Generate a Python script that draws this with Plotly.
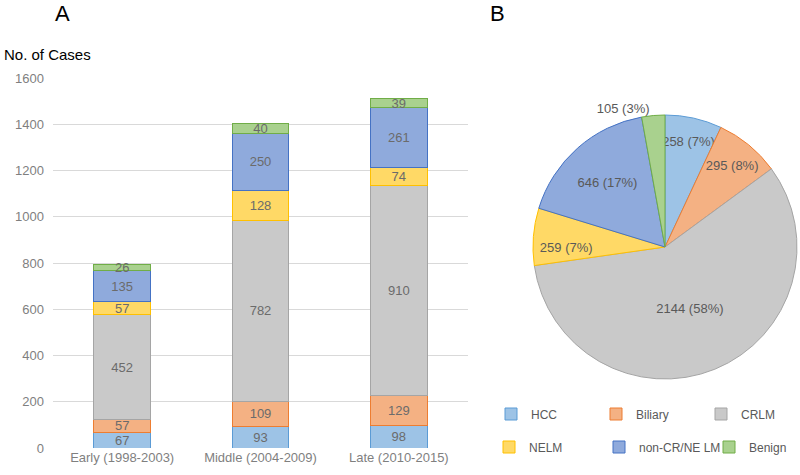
import plotly.graph_objects as go

periods = ["Early (1998-2003)", "Middle (2004-2009)", "Late (2010-2015)"]
categories = ["HCC", "Biliary", "CRLM", "NELM", "non-CR/NE LM", "Benign"]
hcc = [67, 93, 98]
biliary = [57, 109, 129]
crlm = [452, 782, 910]
nelm = [57, 128, 74]
noncr = [135, 250, 261]
benign = [26, 40, 39]
pie_values = [258, 295, 2144, 259, 646, 105]
y_ticks = [0, 200, 400, 600, 800, 1000, 1200, 1400, 1600]

fills = ["#9DC3E6", "#F4B183", "#C9C9C9", "#FFD966", "#8FAADC", "#A9D18E"]
edges = ["#5B9BD5", "#ED7D31", "#A5A5A5", "#FFC000", "#4472C4", "#70AD47"]
FONT = "Liberation Sans, Arial, sans-serif"

W, H = 800, 475


def px(x):
    return x / W


def py(y):
    return 1 - y / H


fig = go.Figure()
series = [hcc, biliary, crlm, nelm, noncr, benign]
for i, (name, vals) in enumerate(zip(categories, series)):
    fig.add_trace(go.Bar(
        x=periods, y=vals, name=name,
        marker=dict(color=fills[i], line=dict(color=edges[i], width=1)),
        text=vals, textposition="inside", insidetextanchor="middle", textangle=0,
        textfont=dict(color="#6b6b6b", size=13, family=FONT),
        legend="legend" if i < 3 else "legend2",
        hoverinfo="skip",
    ))

fig.add_trace(go.Pie(
    values=pie_values, labels=categories, sort=False, direction="clockwise",
    marker=dict(colors=fills, line=dict(color=edges, width=1)),
    texttemplate="%{value} (%{percent:.0%})",
    textposition=["inside", "inside", "inside", "inside", "inside", "outside"],
    insidetextorientation="horizontal",
    textfont=dict(color="#595959", size=13, family=FONT),
    showlegend=False, automargin=False,
    domain=dict(x=[px(533), px(797)], y=[py(379), py(115)]),
    hoverinfo="skip",
))

leg_common = dict(orientation="h", xanchor="left", yanchor="middle",
                  entrywidthmode="pixels", itemwidth=30, traceorder="normal",
                  font=dict(size=12, color="#595959", family=FONT), bgcolor="rgba(0,0,0,0)")

fig.update_layout(
    width=W, height=H,
    margin=dict(l=0, r=0, t=0, b=0, pad=0, autoexpand=False),
    paper_bgcolor="white", plot_bgcolor="white",
    barmode="stack", bargap=0.59,
    font=dict(family=FONT, color="#595959"),
    uniformtext=dict(minsize=13, mode="show"),
    xaxis=dict(domain=[px(53), px(468)], showgrid=False, ticks="", automargin=False,
               tickfont=dict(size=13, color="#7f7f7f", family=FONT)),
    yaxis=dict(domain=[py(448), py(78)], range=[0, 1600], automargin=False,
               tickvals=y_ticks, showgrid=True, gridcolor="#D9D9D9", gridwidth=1,
               zeroline=False, ticks="", ticklabelstandoff=8,
               tickfont=dict(size=13, color="#7f7f7f", family=FONT)),
    legend=dict(x=px(491), y=py(414), entrywidth=60, **leg_common),
    legend2=dict(x=px(489), y=py(447), entrywidth=65, **leg_common),
    annotations=[
        dict(text="A", x=px(62), y=py(13), xref="paper", yref="paper",
             xanchor="center", yanchor="middle",
             showarrow=False, font=dict(size=22, color="black", family=FONT)),
        dict(text="B", x=px(497), y=py(13), xref="paper", yref="paper",
             xanchor="center", yanchor="middle",
             showarrow=False, font=dict(size=22, color="black", family=FONT)),
        dict(text="No. of Cases", x=px(2), y=py(54), xref="paper", yref="paper",
             xanchor="left", yanchor="middle",
             showarrow=False, font=dict(size=15, color="black", family=FONT)),
    ],
)

fig.write_html(
    "out.html",
    config={"displayModeBar": False},
    post_script="document.body.style.margin='0';document.body.style.overflow='hidden';",
)
